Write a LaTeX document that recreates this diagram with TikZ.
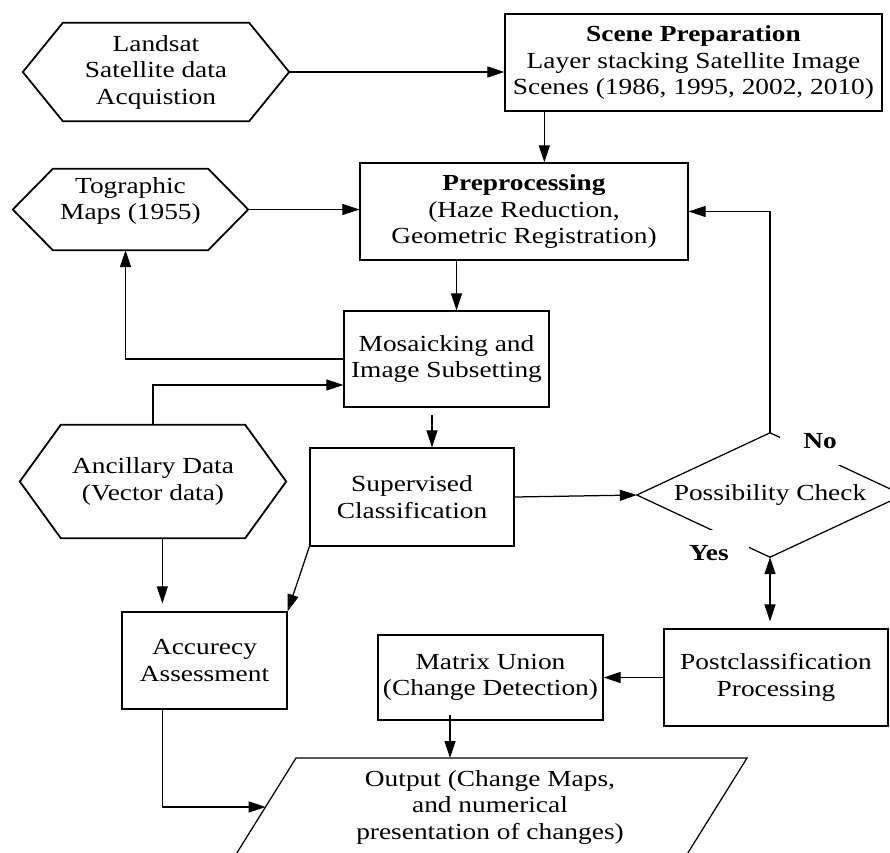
\documentclass[tikz,border=0pt]{standalone}
\usepackage{fontspec}
\setmainfont{Liberation Serif}[FakeStretch=1.19]
\usetikzlibrary{arrows.meta,calc}

% draws a flat-topped hexagon around a (borderless) rectangular node
\newcommand\hexagonpath[2]{%
  \draw[hexline] ([xshift=#2]#1.north west) -- ([xshift=-#2]#1.north east)
    -- (#1.east) -- ([xshift=-#2]#1.south east)
    -- ([xshift=#2]#1.south west) -- (#1.west) -- cycle;}

\begin{document}
\begin{tikzpicture}[x=1pt,y=-1pt,
  font=\fontsize{23}{26.5}\selectfont,
  box/.style={draw,line width=1.3pt,align=center,inner sep=0pt},
  hexnode/.style={inner sep=0pt,align=center},
  hexline/.style={line width=1.8pt,line join=miter},
  line/.style={line width=1.25pt},
  arr/.style={line width=1.25pt,-{Triangle[length=17pt,width=11pt]}},
  dblarr/.style={line width=1.25pt,{Triangle[length=17pt,width=11pt]}-{Triangle[length=17pt,width=11pt]}},
  tag/.style={font=\fontsize{23}{26}\selectfont\bfseries,fill=white,inner sep=0pt,minimum width=80pt}
]
\useasboundingbox (0,0) rectangle (890,852);

% ---- input hexagons ----
\node[hexnode,minimum width=266pt,minimum height=98pt] (land) at (156,72)
  {Landsat\\Satellite data\\Acquistion};
\hexagonpath{land}{40pt}

\node[hexnode,minimum width=235pt,minimum height=81pt] (topo) at (130.5,209.5) {};
\hexagonpath{topo}{40pt}
\node[align=center,inner sep=0pt] (topot) at (130.5,201) {Tographic\\Maps (1955)};

\node[hexnode,minimum width=266pt,minimum height=113pt] (anc) at (153,481.5)
  {Ancillary Data\\(Vector data)};
\hexagonpath{anc}{41pt}

% ---- process boxes ----
\node[box,minimum width=377pt,minimum height=97pt] (scene) at (693.5,62.5)
  {\textbf{Scene Preparation}\\Layer stacking Satellite Image\\Scenes (1986, 1995, 2002, 2010)};
\node[box,minimum width=328pt,minimum height=97pt] (prep) at (524,211.5)
  {\textbf{Preprocessing}\\(Haze Reduction,\\Geometric Registration)};
\node[box,minimum width=205pt,minimum height=96pt] (mosaic) at (446.5,359)
  {Mosaicking and\\Image Subsetting};
\node[box,minimum width=204pt,minimum height=98pt] (sup) at (412,497)
  {Supervised\\Classification};
\node[box,minimum width=165pt,minimum height=97pt] (acc) at (204.5,660.5)
  {Accurecy\\Assessment};
\node[box,minimum width=225pt,minimum height=85pt] (matrix) at (490.5,677.5)
  {Matrix Union\\(Change Detection)};
\node[box,minimum width=224pt,minimum height=97pt] (post) at (776,677.5)
  {Postclassification\\Processing};

% ---- decision ----
\node[minimum width=266pt,minimum height=124pt,inner sep=0pt] (chk) at (770,495)
  {Possibility Check};
\draw[line] (chk.west) -- (chk.north) -- (chk.east) -- (chk.south) -- cycle;
\node[tag,minimum height=48pt] (no) at (820,441) {No};
\node[tag,minimum height=46pt] (yes) at (709,553) {Yes};

% ---- output parallelogram ----
\coordinate (otl) at (296,758);
\coordinate (otr) at (747,758);
\coordinate (obr) at (671,880);
\coordinate (obl) at (220,880);
\draw[line] (otl) -- (otr) -- (obr) -- (obl) -- cycle;
\node[align=center,inner sep=0pt] (outt) at (490,807)
  {Output (Change Maps,\\and numerical\\presentation of changes)};
\coordinate (oin) at (265.6,807);
\coordinate (otop) at (450,758);

% ---- connectors ----
\draw[arr] (land.east) -- (scene.west |- land.east);
\coordinate (sdown) at ($(scene.south west)+(40,0)$);
\draw[arr] (sdown) -- (sdown |- prep.north);
\draw[arr] (topo.east) -- (prep.west |- topo.east);
\draw[arr] (mosaic.west) -| ([xshift=-5pt]topo.south);
\draw[arr] (anc.north) |- ([yshift=-26pt]mosaic.west);
\coordinate (mdown) at ($(mosaic.north)+(10,0)$);
\draw[arr] (prep.south -| mdown) -- (mdown);
\draw[arr] ($(mosaic.south)+(-14.5,7)$) -- ($(sup.north)+(20,0)$);
\draw[arr] (sup.east) -- (chk.west);
\draw[arr] (chk.north) |- (prep.east);
\draw[dblarr,shorten >=7pt] (chk.south) -- (chk.south |- post.north);
\draw[arr] (post.west) -- (matrix.east |- post.west);
\draw[arr] ($(matrix.south)+(-40.5,-6)$) -- (otop);
\coordinate (acol) at ($(acc.north west)+(41,0)$);
\draw[arr,shorten >=8pt] (anc.south -| acol) -- (acol);
\draw[arr] (sup.south west) -- (acc.north east);
\draw[arr] (acc.south -| acol) |- (oin);

\end{tikzpicture}
\end{document}
